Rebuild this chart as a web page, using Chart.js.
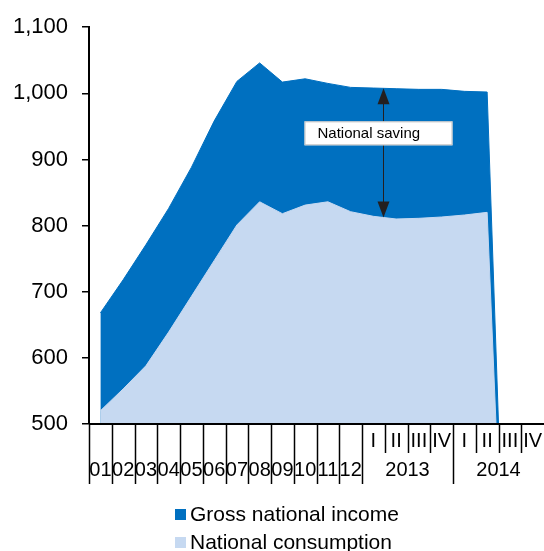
<!DOCTYPE html>
<html>
<head>
<meta charset="utf-8">
<script src="https://cdn.jsdelivr.net/npm/chart.js@4.4.0/dist/chart.umd.min.js"></script>
<style>
    html, body { margin: 0; padding: 0; background: #fff; }
    canvas { display: block; }
</style>
</head>
<body>
<canvas id="savingChart" width="544" height="551"></canvas>
<script>
const yearLabels = ['01', '02', '03', '04', '05', '06', '07', '08', '09', '10', '11', '12'];
const quarterYears = ['2013', '2014'];
const quarterLabels = ['I', 'II', 'III', 'IV'];

const grossNationalIncome = [668, 718, 771, 826, 888, 958, 1018, 1046, 1017, 1022, 1015, 1009,
                             1008, 1007, 1006, 1006, 1003, 1002, 0, 0];
const nationalConsumption = [520, 553, 588, 639, 693, 747, 801, 836, 818, 831, 836, 821,
                             814, 810, 811, 813, 816, 820, 0, 0];

const savingLabel = 'National saving';
const savingAt = 12.42; // arrow position, in categories

const DARK = '#0070C0';
const LIGHT = '#C6D9F1';
const FONT = '"Liberation Sans", Arial, sans-serif';

const categories = yearLabels.concat(...quarterYears.map(yr => quarterLabels.map(q => yr + ' ' + q)));

function valueAt(arr, pos) {
    const i = Math.floor(pos), f = pos - i;
    return arr[i] + (arr[i + 1] - arr[i]) * f;
}

// x axis with two rows of labels, the saving arrow and the legend
const axisAndNotes = {
    id: 'axisAndNotes',
    afterDraw(chart) {
        const { ctx, chartArea: area, scales: { x, y } } = chart;
        const step = x.getPixelForValue(1) - x.getPixelForValue(0);
        const edge = i => x.getPixelForValue(i) - step / 2;
        const bottom = area.bottom;

        ctx.save();
        ctx.strokeStyle = '#000';
        ctx.fillStyle = '#000';

        // tick lines between categories
        const longTicks = [];
        for (let i = 0; i <= yearLabels.length; i++) longTicks.push(i);
        quarterYears.forEach((yr, k) => longTicks.push(yearLabels.length + (k + 1) * quarterLabels.length));
        ctx.lineWidth = 1.5;
        for (let i = 0; i < categories.length; i++) {
            const px = Math.round(edge(i)) + 0.5;
            const len = longTicks.includes(i) ? 60 : 29;
            ctx.beginPath();
            ctx.moveTo(px, bottom);
            ctx.lineTo(px, bottom + len);
            ctx.stroke();
        }

        // axis line
        ctx.lineWidth = 2;
        ctx.beginPath();
        ctx.moveTo(area.left, bottom);
        ctx.lineTo(area.right, bottom);
        ctx.stroke();

        // labels
        ctx.font = '20px ' + FONT;
        ctx.textAlign = 'center';
        ctx.textBaseline = 'middle';
        yearLabels.forEach((lab, i) => ctx.fillText(lab, x.getPixelForValue(i), bottom + 46));
        quarterYears.forEach((yr, k) => {
            const first = yearLabels.length + k * quarterLabels.length;
            quarterLabels.forEach((q, j) => ctx.fillText(q, x.getPixelForValue(first + j), bottom + 17));
            const mid = (x.getPixelForValue(first) + x.getPixelForValue(first + quarterLabels.length - 1)) / 2;
            ctx.fillText(yr, mid, bottom + 46);
        });

        // saving arrow
        const ax = Math.round(x.getPixelForValue(savingAt)) + 0.5;
        const yTop = y.getPixelForValue(valueAt(grossNationalIncome, savingAt));
        const yBot = y.getPixelForValue(valueAt(nationalConsumption, savingAt));
        ctx.fillStyle = '#231F20';
        ctx.strokeStyle = '#231F20';
        ctx.lineWidth = 1;
        ctx.beginPath();
        ctx.moveTo(ax, yTop + 10);
        ctx.lineTo(ax, yBot - 10);
        ctx.stroke();
        ctx.beginPath();
        ctx.moveTo(ax, yTop);
        ctx.lineTo(ax - 6, yTop + 16);
        ctx.lineTo(ax + 6, yTop + 16);
        ctx.closePath();
        ctx.fill();
        ctx.beginPath();
        ctx.moveTo(ax, yBot);
        ctx.lineTo(ax - 6, yBot - 16);
        ctx.lineTo(ax + 6, yBot - 16);
        ctx.closePath();
        ctx.fill();

        // label box
        const bx = ax - 79, by = yTop + 33, bw = 148, bh = 24;
        ctx.fillStyle = '#fff';
        ctx.fillRect(bx, by, bw, bh);
        ctx.strokeStyle = '#BFBFBF';
        ctx.strokeRect(bx + 0.5, by + 0.5, bw - 1, bh - 1);
        ctx.fillStyle = '#000';
        ctx.font = '15px ' + FONT;
        ctx.textAlign = 'left';
        ctx.fillText(savingLabel, bx + 13, by + bh / 2 + 1);

        // legend, one item per row
        ctx.font = '21px ' + FONT;
        ctx.textBaseline = 'alphabetic';
        const items = chart.data.datasets.slice().reverse();
        items.forEach((ds, i) => {
            const rowY = 521 + i * 28;
            ctx.fillStyle = ds.backgroundColor;
            ctx.fillRect(175, rowY - 12, 11, 11);
            ctx.fillStyle = '#000';
            ctx.fillText(ds.label, 190, rowY);
        });
        ctx.restore();
    }
};

const ctx = document.getElementById('savingChart').getContext('2d');
new Chart(ctx, {
    type: 'line',
    data: {
        labels: categories,
        datasets: [{
            label: 'National consumption',
            data: nationalConsumption,
            backgroundColor: LIGHT,
            borderColor: LIGHT,
            borderWidth: 1,
            fill: 'origin',
            pointRadius: 0,
            tension: 0
        }, {
            label: 'Gross national income',
            data: grossNationalIncome,
            backgroundColor: DARK,
            borderColor: DARK,
            borderWidth: 1,
            fill: 'origin',
            pointRadius: 0,
            tension: 0
        }]
    },
    options: {
        responsive: false,
        animation: false,
        layout: { padding: { top: 24, left: 0, right: 0, bottom: 0 } },
        plugins: {
            legend: { display: false },
            tooltip: { enabled: false }
        },
        scales: {
            x: {
                offset: true,
                ticks: { display: false },
                grid: { display: false },
                border: { display: false },
                afterFit: scale => { scale.height = 127; }
            },
            y: {
                min: 500,
                max: 1100,
                ticks: {
                    stepSize: 100,
                    color: '#000',
                    padding: 14,
                    font: { family: FONT, size: 22 },
                    callback: v => v.toLocaleString('en-US')
                },
                grid: { drawOnChartArea: false, tickLength: 7, color: '#000', lineWidth: 1.5 },
                border: { color: '#000', width: 2 },
                afterFit: scale => { scale.width = 89; }
            }
        }
    },
    plugins: [axisAndNotes]
});
</script>
</body>
</html>
